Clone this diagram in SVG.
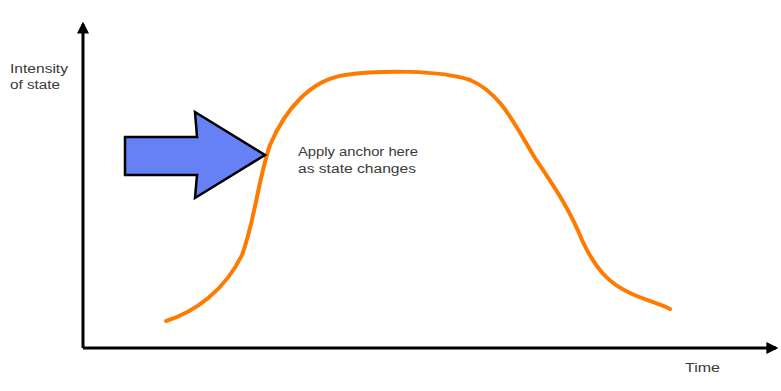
<svg xmlns="http://www.w3.org/2000/svg" width="781" height="391" viewBox="0 0 781 391">
<style>
.t{font-family:"Liberation Sans",Arial,sans-serif;font-size:12px;fill:#3a3a3a}
.ax{stroke:#000;stroke-width:3;fill:none}
</style>
<defs>
<marker id="ah" viewBox="0 0 10 10" refX="8" refY="5" markerWidth="4" markerHeight="4" orient="auto" markerUnits="strokeWidth">
<path d="M0,0 L10,5 L0,10 Z" fill="#000"/>
</marker>
</defs>
<rect width="781" height="391" fill="#fff"/>
<g id="connectors">
<path class="ax" d="M83,348 L83,24" marker-end="url(#ah)"/>
<path class="ax" d="M83,348 L776,348" marker-end="url(#ah)"/>
</g>
<g id="curve">
<path d="M166,321 C195,312 225,290 242,255 C255,220 258,180 270,145 C285,110 310,80 345,75 C380,70 440,70 470,80 C500,92 515,125 535,158 C555,188 570,210 582,240 C595,268 608,283 630,293 C645,300 660,304 670,309" fill="none" stroke="#ff7b00" stroke-width="4" stroke-linecap="round"/>
</g>
<g id="arrow">
<path d="M125,137 L197,137 L195,112 L265,155 L195,198 L197,175 L125,175 Z" fill="#6680f5" stroke="#000" stroke-width="2.5" stroke-linejoin="miter"/>
</g>
<g id="label-y">
<text class="t" x="10" y="73" textLength="58" lengthAdjust="spacingAndGlyphs">Intensity</text>
<text class="t" x="10" y="89" textLength="50" lengthAdjust="spacingAndGlyphs">of state</text>
</g>
<g id="label-anchor">
<text class="t" x="298" y="156" textLength="120" lengthAdjust="spacingAndGlyphs">Apply anchor here</text>
<text class="t" x="298" y="173" textLength="118" lengthAdjust="spacingAndGlyphs">as state changes</text>
</g>
<g id="label-x">
<text class="t" x="685" y="372" textLength="35" lengthAdjust="spacingAndGlyphs">Time</text>
</g>
</svg>
